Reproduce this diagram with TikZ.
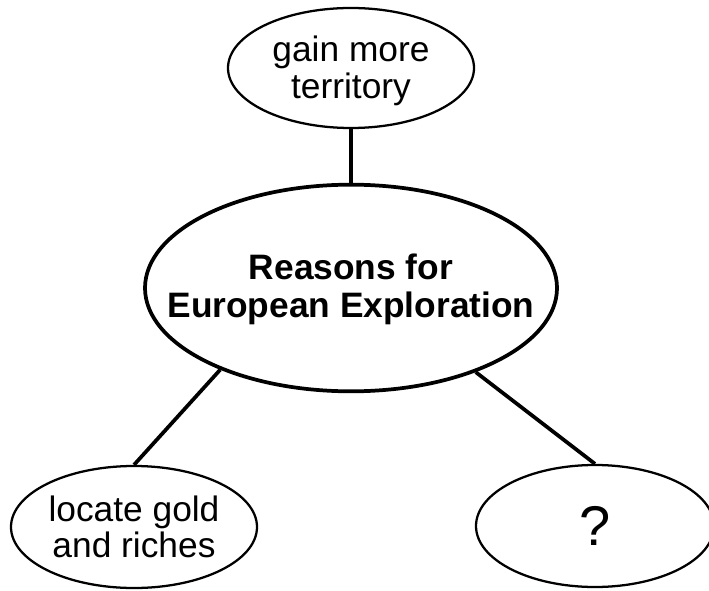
\documentclass[tikz,border=0pt]{standalone}
\usepackage{fontspec}
\setmainfont{Liberation Sans}
\usetikzlibrary{shapes.geometric}

\begin{document}
\begin{tikzpicture}[x=0.75pt,y=-0.75pt,
  bubble/.style={ellipse,draw,line width=1.7pt,inner sep=0pt,minimum width=184.5pt,minimum height=90pt},
  bigbubble/.style={ellipse,draw,line width=2.8pt,inner sep=0pt,minimum width=309pt,minimum height=155pt},
  txt/.style={align=center,font=\fontsize{26.5}{27.5}\selectfont},
  bigtxt/.style={align=center,font=\fontsize{26.5}{29}\selectfont\bfseries},
  link/.style={line width=2.8pt}]
\useasboundingbox (0,0) rectangle (709,591);

\node[bubble,label={[txt,yshift=-2pt]center:gain more\\territory}] (territory) at (351,68) {};
\node[bigbubble,label={[bigtxt,yshift=-1pt]center:Reasons for\\European Exploration}] (reasons) at (351,288) {};
\node[bubble,minimum height=91.5pt,label={[txt]center:locate gold\\and riches}] (gold) at (134,527) {};
\node[bubble,minimum width=178.5pt,minimum height=91.5pt,label={[font=\fontsize{42}{44}\selectfont]center:?}] (unknown) at (595,526) {};

\draw[link] (territory.south)--(reasons.north);
\draw[link] (reasons.212)--(gold.north);
\draw[link] (reasons.326.5)--(unknown.north);
\end{tikzpicture}
\end{document}
